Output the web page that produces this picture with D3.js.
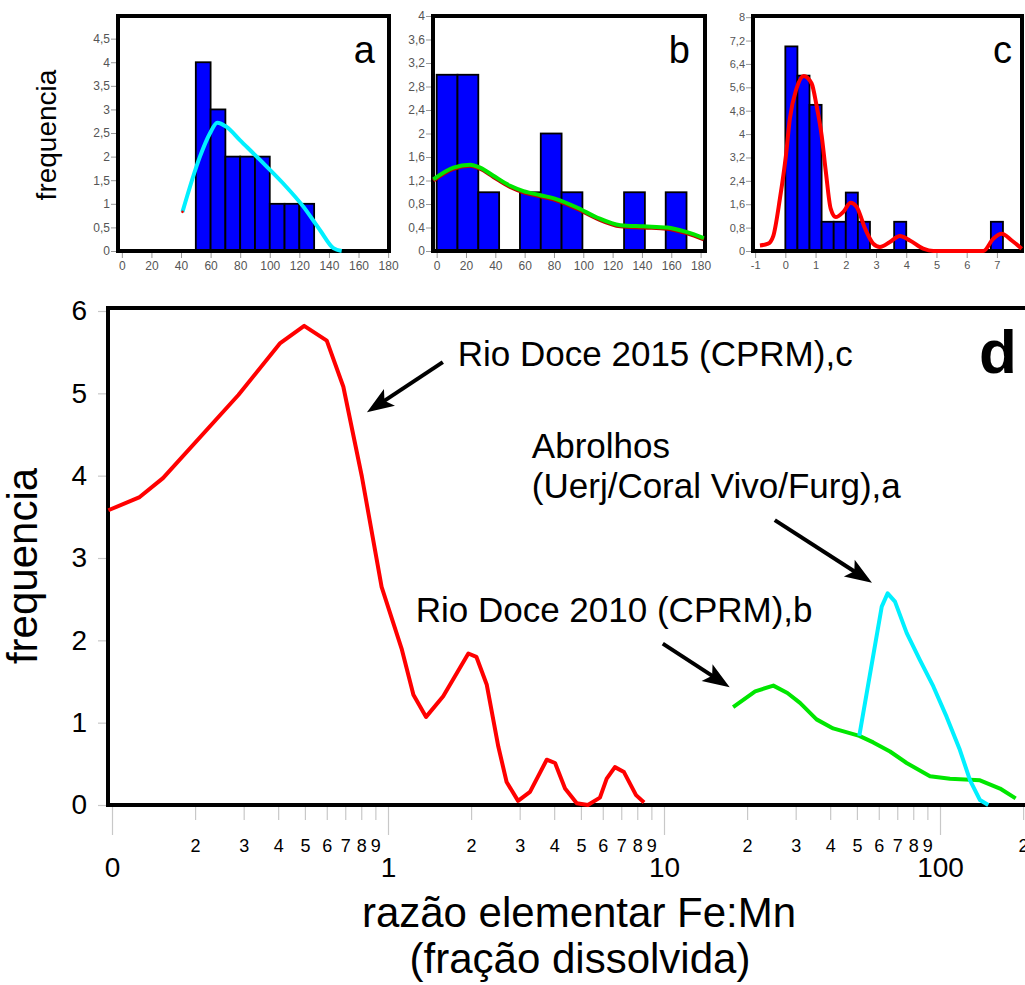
<!DOCTYPE html>
<html>
<head>
<meta charset="utf-8">
<script src="https://cdn.jsdelivr.net/npm/d3@7"></script>
<style>
body { margin: 0; background: #fff; }
svg { display: block; }
text { font-family: "Liberation Sans", Arial, sans-serif; }
</style>
</head>
<body>
<script>
// ---- panel a: Abrolhos (Uerj/Coral Vivo/Furg)
var binsA = [50, 60, 70, 80, 90, 100, 110, 120, 130];
var countsA = [4, 3, 2, 2, 2, 1, 1, 1];
var curveAx = [41, 52.8, 59.5, 64.5, 70.8, 79.8, 93.4, 109.1, 122.7, 134, 143, 148.6];
var curveAy = [0.83, 2.0, 2.49, 2.72, 2.63, 2.35, 1.93, 1.43, 0.94, 0.44, 0.06, 0];
var ticksAx = [0, 20, 40, 60, 80, 100, 120, 140, 160, 180];
var ticksAy = [0, 0.5, 1, 1.5, 2, 2.5, 3, 3.5, 4, 4.5];

// ---- panel b: Rio Doce 2010 (CPRM)
var binsB = [0, 14.2, 28.4, 42.6, 56.8, 71, 85.2, 99.4, 113.6, 127.8, 142, 156.2, 170.4];
var countsB = [3, 3, 1, 0, 1, 2, 1, 0, 0, 1, 0, 1];
var curveBx = [-2.3, 11.4, 22.8, 29.6, 38.7, 50.1, 59.2, 70.8, 82.0, 95.7, 109.4, 125.2, 141.2, 157.2, 170.8, 182.2];
var curveBy = [1.22, 1.42, 1.47, 1.42, 1.28, 1.11, 1.02, 0.95, 0.88, 0.74, 0.57, 0.44, 0.42, 0.40, 0.32, 0.22];
var ticksBx = [0, 20, 40, 60, 80, 100, 120, 140, 160, 180];
var ticksBy = [0, 0.4, 0.8, 1.2, 1.6, 2, 2.4, 2.8, 3.2, 3.6, 4];

// ---- panel c: Rio Doce 2015 (CPRM)
var binsC = [0, 0.4, 0.8, 1.2, 1.6, 2.0, 2.4, 2.8, 3.2, 3.6, 4.0, 4.4, 4.8, 5.2, 5.6, 6.0, 6.4, 6.8, 7.2];
var countsC = [7, 6, 5, 1, 1, 2, 1, 0, 0, 1, 0, 0, 0, 0, 0, 0, 0, 1];
var curveCx = [-0.84, -0.57, -0.40, -0.18, 0.02, 0.15, 0.37, 0.61, 0.87, 1.03, 1.20, 1.34, 1.50, 1.67, 1.92, 2.16, 2.36, 2.64, 2.91, 3.13, 3.46, 3.79, 4.12, 4.56, 4.9, 6.55, 6.88, 7.16, 7.49, 7.82];
var curveCy = [0.19, 0.25, 0.51, 1.79, 3.27, 4.53, 5.56, 5.99, 5.73, 4.99, 3.96, 2.71, 1.45, 1.16, 1.34, 1.65, 1.51, 0.76, 0.25, 0.14, 0.31, 0.51, 0.36, 0.08, 0, 0, 0.42, 0.59, 0.36, 0.08];
var ticksCx = [-1, 0, 1, 2, 3, 4, 5, 6, 7];
var ticksCy = [0, 0.8, 1.6, 2.4, 3.2, 4, 4.8, 5.6, 6.4, 7.2, 8];

// ---- panel d: curves on a log axis of Fe:Mn
var redX = [0.097, 0.126, 0.153, 0.287, 0.407, 0.497, 0.6, 0.689, 0.804, 0.948, 1.12, 1.236, 1.374, 1.585, 1.955, 2.09, 2.28, 2.51, 2.69, 2.96, 3.27, 3.76, 4.03, 4.38, 4.83, 5.3, 5.86, 6.2, 6.64, 7.16, 7.92, 8.47];
var redY = [3.58, 3.74, 3.97, 4.98, 5.61, 5.82, 5.64, 5.08, 3.99, 2.65, 1.90, 1.34, 1.07, 1.32, 1.84, 1.80, 1.46, 0.71, 0.28, 0.05, 0.16, 0.55, 0.51, 0.20, 0.02, 0, 0.09, 0.32, 0.46, 0.40, 0.12, 0.03];
var greenX = [17.8, 21.4, 24.9, 28.0, 31.1, 35.7, 41.0, 51.0, 57.3, 65.9, 75.7, 92.0, 108.7, 139.6, 165, 188];
var greenY = [1.19, 1.38, 1.45, 1.36, 1.24, 1.04, 0.93, 0.84, 0.76, 0.65, 0.51, 0.35, 0.32, 0.30, 0.20, 0.08];
var cyanX = [51.0, 61.5, 64.6, 68.7, 75.7, 84.6, 94.6, 105.7, 118, 128.5, 139.6, 149.6];
var cyanY = [0.84, 2.41, 2.57, 2.47, 2.09, 1.76, 1.44, 1.07, 0.67, 0.30, 0.06, 0.0];
var ticksDy = [0, 1, 2, 3, 4, 5, 6];
var majorDx = [0.1, 1, 10, 100];
var majorDlabels = ["0", "1", "10", "100"];
var minorDx = [0.2, 0.3, 0.4, 0.5, 0.6, 0.7, 0.8, 0.9, 2, 3, 4, 5, 6, 7, 8, 9, 20, 30, 40, 50, 60, 70, 80, 90, 200];

// annotations in data units of panel d: [x, y, text]
var notesD = [
  [1.79, 5.33, "Rio Doce 2015 (CPRM),c"],
  [3.32, 4.21, "Abrolhos"],
  [3.32, 3.73, "(Uerj/Coral Vivo/Furg),a"],
  [1.26, 2.22, "Rio Doce 2010 (CPRM),b"]
];
// arrows: [x1, y1, x2, y2] tail -> tip
var arrowsD = [
  [1.58, 5.38, 0.839, 4.77],
  [25.2, 3.46, 56.7, 2.70],
  [9.9, 1.96, 17.3, 1.43]
];

var svg = d3.select("body").append("svg")
  .attr("width", 1025)
  .attr("height", 985);

function fmtComma(v) {
  return String(+v.toFixed(1)).replace(".", ",");
}

function drawHist(o) {
  var x = d3.scaleLinear().domain(o.xd).range(o.xr);
  var y = d3.scaleLinear().domain(o.yd).range([251, 16]);
  var g = svg.append("g");

  var bars = [];
  for (var i = 0; i < o.counts.length; i++) {
    if (o.counts[i] > 0) bars.push({x0: o.bins[i], x1: o.bins[i + 1], n: o.counts[i]});
  }
  g.selectAll("rect.bar").data(bars).enter().append("rect")
    .attr("class", "bar")
    .attr("x", function(d) { return x(d.x0); })
    .attr("y", function(d) { return y(d.n); })
    .attr("width", function(d) { return x(d.x1) - x(d.x0); })
    .attr("height", function(d) { return y(0) - y(d.n); })
    .attr("fill", "#0000ff")
    .attr("stroke", "#000")
    .attr("stroke-width", 1.8);

  // frame
  g.append("rect")
    .attr("x", o.xr[0]).attr("y", 16)
    .attr("width", o.xr[1] - o.xr[0]).attr("height", 235)
    .attr("fill", "none").attr("stroke", "#000").attr("stroke-width", 4);

  var ya = g.append("g")
    .attr("transform", "translate(" + (o.xr[0] - 2) + ",0)")
    .call(d3.axisLeft(y).tickValues(o.ty).tickSize(5).tickPadding(1).tickFormat(fmtComma));
  var xa = g.append("g")
    .attr("transform", "translate(0,253)")
    .call(d3.axisBottom(x).tickValues(o.tx).tickSize(5).tickPadding(3).tickFormat(function(v) { return v; }));
  [ya, xa].forEach(function(a) {
    a.select(".domain").remove();
    a.selectAll(".tick line").attr("stroke", "#999");
    a.selectAll("text").attr("fill", "#555").style("font-size", o.fs + "px")
      .style("font-family", '"Liberation Sans", Arial, sans-serif');
  });

  var pts = o.cx.map(function(v, i) { return [x(v), y(o.cy[i])]; });
  var line = d3.line().curve(d3.curveMonotoneX);
  if (o.shadow) {
    g.append("path").attr("d", line(pts.map(function(p) { return [p[0], p[1] + 1.2]; })))
      .attr("fill", "none").attr("stroke", o.shadow).attr("stroke-width", 4);
  }
  g.append("path").attr("d", line(pts))
    .attr("fill", "none").attr("stroke", o.color).attr("stroke-width", 4)
    .attr("stroke-linejoin", "round");
  if (o.dot) {
    g.append("circle").attr("cx", pts[0][0]).attr("cy", pts[0][1]).attr("r", 1.3).attr("fill", "#e00");
  }

  g.append("text")
    .attr("x", o.xr[1] - o.lx).attr("y", 63)
    .attr("text-anchor", "end")
    .style("font-size", "38px")
    .text(o.letter);
  return g;
}

drawHist({bins: binsA, counts: countsA, cx: curveAx, cy: curveAy, tx: ticksAx, ty: ticksAy,
  xd: [-2.6, 180.6], xr: [118, 389], yd: [0, 4.98], color: "#00f0ff", letter: "a", lx: 14, fs: 12, dot: true});
drawHist({bins: binsB, counts: countsB, cx: curveBx, cy: curveBy, tx: ticksBx, ty: ticksBy,
  xd: [-2.5, 183], xr: [433, 705], yd: [0, 4], color: "#00e600", shadow: "#c00000", letter: "b", lx: 15, fs: 12});
drawHist({bins: binsC, counts: countsC, cx: curveCx, cy: curveCy, tx: ticksCx, ty: ticksCy,
  xd: [-1.07, 7.83], xr: [753, 1022], yd: [0, 8.04], color: "#ff0000", letter: "c", lx: 10, fs: 11});

svg.append("text")
  .attr("transform", "translate(56,135) rotate(-90)")
  .attr("text-anchor", "middle")
  .style("font-size", "28px")
  .text("frequencia");

// ---- panel d
var x = d3.scaleLog().domain([0.1, 100]).range([112, 940]);
var y = d3.scaleLinear().domain([0, 6]).range([805, 311]);
var gd = svg.append("g");

var yAxis = gd.append("g")
  .attr("transform", "translate(106,0)")
  .call(d3.axisLeft(y).tickValues(ticksDy).tickSize(8).tickPadding(11).tickFormat(d3.format("d")));
var minorAxis = gd.append("g")
  .attr("transform", "translate(0,805)")
  .call(d3.axisBottom(x).tickValues(minorDx).tickSize(15).tickPadding(19)
    .tickFormat(function(v) { return Math.round(v / Math.pow(10, Math.floor(Math.log10(v) + 1e-9))); }));
var majorAxis = gd.append("g")
  .attr("transform", "translate(0,805)")
  .call(d3.axisBottom(x).tickValues(majorDx).tickSize(30).tickPadding(22)
    .tickFormat(function(v, i) { return majorDlabels[i]; }));
[yAxis, minorAxis, majorAxis].forEach(function(a) {
  a.select(".domain").remove();
  a.selectAll(".tick line").attr("stroke", "#c8c8c8").attr("stroke-width", 1.2);
  a.selectAll("text").attr("fill", "#000").style("font-family", '"Liberation Sans", Arial, sans-serif');
});
yAxis.selectAll("text").style("font-size", "28px");
minorAxis.selectAll("text").style("font-size", "18px");
majorAxis.selectAll("text").style("font-size", "28px");

// frame of d (runs off the right edge)
gd.append("path")
  .attr("d", "M1030,308 H108 V805 H1030")
  .attr("fill", "none").attr("stroke", "#000").attr("stroke-width", 4);

var lineD = d3.line()
  .x(function(d) { return x(d[0]); })
  .y(function(d) { return y(d[1]); });
function curveD(xs, ys, color) {
  gd.append("path")
    .attr("d", lineD(xs.map(function(v, i) { return [v, ys[i]]; })))
    .attr("fill", "none").attr("stroke", color).attr("stroke-width", 4)
    .attr("stroke-linejoin", "round");
}
curveD(redX, redY, "#ff0000");
curveD(greenX, greenY, "#00e600");
curveD(cyanX, cyanY, "#00f0ff");

gd.selectAll("text.note").data(notesD).enter().append("text")
  .attr("class", "note")
  .attr("x", function(d) { return x(d[0]); })
  .attr("y", function(d) { return y(d[1]); })
  .style("font-size", "35px")
  .text(function(d) { return d[2]; });

arrowsD.forEach(function(a) {
  var x1 = x(a[0]), y1 = y(a[1]), x2 = x(a[2]), y2 = y(a[3]);
  var dx = x2 - x1, dy = y2 - y1, L = Math.sqrt(dx * dx + dy * dy);
  var ux = dx / L, uy = dy / L;
  var hl = 27, hw = 10;
  var bx = x2 - ux * hl, by = y2 - uy * hl;
  gd.append("line")
    .attr("x1", x1).attr("y1", y1)
    .attr("x2", x2 - ux * 18).attr("y2", y2 - uy * 18)
    .attr("stroke", "#000").attr("stroke-width", 4);
  gd.append("path")
    .attr("d", "M" + x2 + "," + y2 + "L" + (bx - uy * hw) + "," + (by + ux * hw) +
      "L" + (bx + ux * 6) + "," + (by + uy * 6) +
      "L" + (bx + uy * hw) + "," + (by - ux * hw) + "Z")
    .attr("fill", "#000");
});

gd.append("text")
  .attr("x", x(190)).attr("y", y(5.25))
  .attr("text-anchor", "end")
  .style("font-size", "62px").style("font-weight", "bold")
  .text("d");

gd.append("text")
  .attr("transform", "translate(37,566) rotate(-90)")
  .attr("text-anchor", "middle")
  .style("font-size", "42px")
  .text("frequencia");

gd.append("text")
  .attr("x", 579).attr("y", 927)
  .attr("text-anchor", "middle")
  .style("font-size", "42px")
  .text("razão elementar Fe:Mn");
gd.append("text")
  .attr("x", 580).attr("y", 973)
  .attr("text-anchor", "middle")
  .style("font-size", "42px")
  .text("(fração dissolvida)");
</script>
</body>
</html>
